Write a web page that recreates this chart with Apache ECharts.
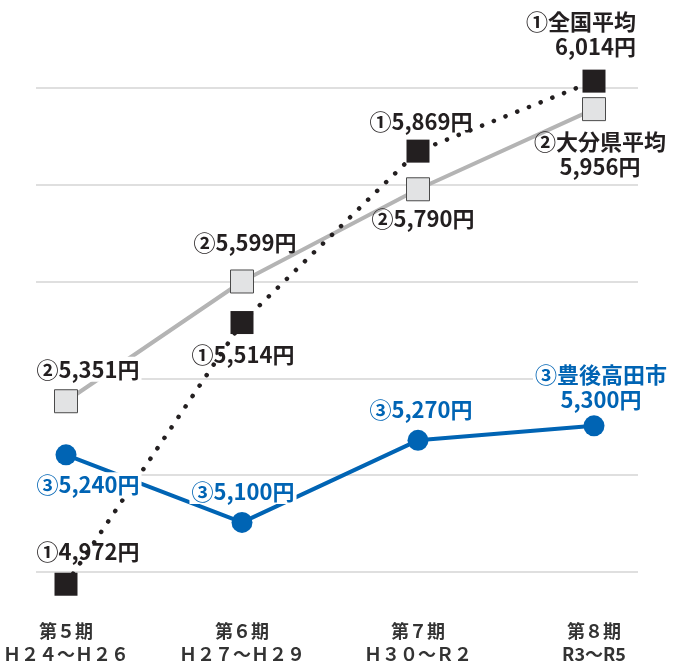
<!DOCTYPE html>
<html><head><meta charset="utf-8">
<script src="https://cdn.jsdelivr.net/npm/echarts@6/dist/echarts.min.js"></script>
<style>html,body{margin:0;padding:0;background:#fff}#c{width:678px;height:666px}</style>
</head><body><div id="c"></div>
<script>
const periods = ['第５期', '第６期', '第７期', '第８期'];
const years = ['Ｈ２４～Ｈ２６', 'Ｈ２７～Ｈ２９', 'Ｈ３０～Ｒ２', 'R3～R5'];
const nationalAvg = [4972, 5514, 5869, 6014];
const oitaAvg = [5351, 5599, 5790, 5956];
const bungotakada = [5240, 5100, 5270, 5300];
const seriesNames = ['①全国平均', '②大分県平均', '③豊後高田市'];
const marks = ['①', '②', '③'];
const gridTicks = [5000, 6000, 200];

const FONT = '"Noto Sans CJK JP", sans-serif';
const BLUE = '#0064b4';
const DARK = '#231f20';
const fmt = v => v.toLocaleString('en-US') + '円';

// label placement (offset from point centre), per series/point
const lblOffsets = [
  [[22, -33], [1, 32], [3, -29], [42, -47]],
  [[22, -32], [3, -39], [5, 29], [6, 45]],
  [[22, 30], [1, -31], [3, -31], [7, -39]]
];
const lblBg = [
  [false, false, false, false],
  [true, false, false, false],
  [true, true, false, true]
];

function buildData(values, si, color) {
  return values.map((v, i) => {
    const last = i === values.length - 1;
    const text = last ? seriesNames[si] + '\n' + fmt(v) : marks[si] + fmt(v);
    return {
      value: v,
      label: {
        show: true,
        position: 'inside',
        formatter: text,
        offset: lblOffsets[si][i],
        align: (si === 0 && last) ? 'right' : 'center',
        verticalAlign: 'middle',
        color: color,
        fontFamily: FONT,
        fontWeight: 'bold',
        fontSize: 22,
        lineHeight: 25,
        backgroundColor: lblBg[si][i] ? '#ffffff' : 'transparent',
        padding: lblBg[si][i] ? [0, 2] : 0
      }
    };
  });
}

const chart = echarts.init(document.getElementById('c'), null, {renderer: 'canvas'});
chart.setOption({
  animation: false,
  backgroundColor: '#ffffff',
  grid: [
    {left: 36, right: 40, top: 88, bottom: 94},
    {left: 66, right: 84, top: 39.6, bottom: 45.6}
  ],
  xAxis: [
    {gridIndex: 0, type: 'value', min: 0, max: 1, show: false},
    {gridIndex: 1, type: 'category', boundaryGap: false,
     data: periods.map((p, i) => p + '\n' + years[i]),
     axisLine: {show: false}, axisTick: {show: false},
     axisLabel: {margin: 1, color: '#333', fontFamily: FONT, fontWeight: 'bold', fontSize: 18, lineHeight: 23}}
  ],
  yAxis: [
    {gridIndex: 0, type: 'value', min: gridTicks[0], max: gridTicks[1], interval: gridTicks[2],
     axisLabel: {show: false}, axisLine: {show: false}, axisTick: {show: false},
     splitLine: {show: true, lineStyle: {color: '#d4d4d4', width: 1.6}}},
    {gridIndex: 1, type: 'value', min: 4900, max: 6100, show: false, splitLine: {show: false}}
  ],
  series: [
    {
      name: seriesNames[1], type: 'line', xAxisIndex: 1, yAxisIndex: 1,
      data: buildData(oitaAvg, 1, DARK),
      symbol: 'rect', symbolSize: 23,
      lineStyle: {color: '#b4b4b4', width: 4},
      itemStyle: {color: '#e2e3e4', borderColor: '#4a4a4a', borderWidth: 1},
      z: 2
    },
    {
      name: seriesNames[0], type: 'line', xAxisIndex: 1, yAxisIndex: 1,
      data: buildData(nationalAvg, 0, DARK),
      symbol: 'rect', symbolSize: 23,
      lineStyle: {color: DARK, width: 4.5, type: [0.1, 12.5], cap: 'round'},
      itemStyle: {color: DARK, borderWidth: 0},
      z: 3
    },
    {
      name: seriesNames[2], type: 'line', xAxisIndex: 1, yAxisIndex: 1,
      data: buildData(bungotakada, 2, BLUE),
      symbol: 'circle', symbolSize: 21,
      lineStyle: {color: BLUE, width: 4},
      itemStyle: {color: BLUE, borderWidth: 0},
      z: 4
    }
  ]
});
</script></body></html>
